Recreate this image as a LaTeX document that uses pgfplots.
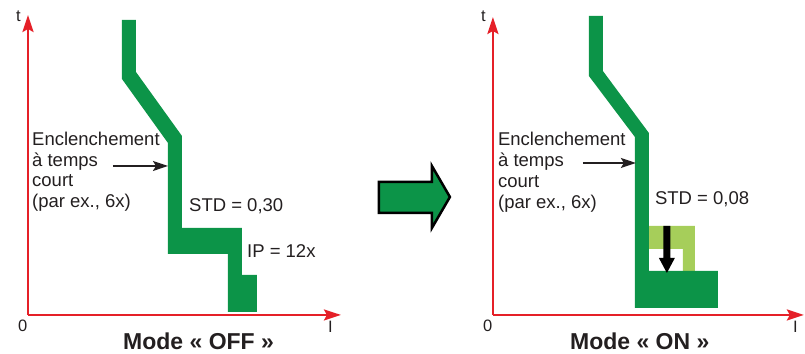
\documentclass[border=0pt]{standalone}
\usepackage{pgfplots}
\pgfplotsset{compat=1.18}
\usepackage{fontspec}
\setmainfont{Liberation Sans}
\usetikzlibrary{arrows.meta}
\definecolor{dkgreen}{RGB}{12,148,72}
\definecolor{ltgreen}{RGB}{166,206,90}
\definecolor{axred}{RGB}{229,32,40}
\definecolor{txt}{RGB}{35,31,32}
\begin{document}
\begin{tikzpicture}
\begin{axis}[scale only axis, width=805bp, height=354bp,
  xmin=0, xmax=805, ymin=0, ymax=354, y dir=reverse,
  hide axis, clip=false]
\path (axis cs:0,0) rectangle (axis cs:805,354);
% ---------- left panel ----------
\addplot[draw=none, fill=dkgreen] coordinates {(122,20) (136,20) (136,72) (182,136) (182,228) (242,228) (242,275) (257,275) (257,312) (228,312) (228,254) (168,254) (168,143) (122,79)} --cycle;
\addplot[axred, line width=2.3bp, -{Stealth[length=17bp,width=11bp,inset=3bp]}] coordinates {(28,315) (28,15)};
\addplot[axred, line width=2.3bp, -{Stealth[length=17bp,width=11bp,inset=3bp]}] coordinates {(28,315) (341,315)};
\addplot[txt, line width=1.7bp, -{Stealth[length=15bp,width=10bp,inset=3bp]}] coordinates {(113,166) (168,166)};
% ---------- right panel ----------
\addplot[draw=none, fill=ltgreen] coordinates {(649,226) (695,226) (695,271) (683,271) (683,249) (649,249)} --cycle;
\addplot[draw=none, fill=dkgreen] coordinates {(589,16) (603,16) (603,71) (649,133) (649,271) (718,271) (718,308) (635,308) (635,137) (589,76)} --cycle;
\addplot[draw=none, fill=black] coordinates {(663.5,226) (670.5,226) (670.5,258) (675,258) (667,273) (659,258) (663.5,258)} --cycle;
\addplot[axred, line width=2.3bp, -{Stealth[length=17bp,width=11bp,inset=3bp]}] coordinates {(493,315) (493,17)};
\addplot[axred, line width=2.3bp, -{Stealth[length=17bp,width=11bp,inset=3bp]}] coordinates {(493,315) (804,315)};
\addplot[txt, line width=1.7bp, -{Stealth[length=15bp,width=10bp,inset=3bp]}] coordinates {(583,163) (636,163)};
% ---------- middle arrow ----------
\addplot[draw=black, line width=2.5bp, fill=dkgreen, line join=miter] coordinates {(379,182) (432,182) (432,166) (450,197) (432,228) (432,213) (379,213)} --cycle;
% ---------- texts ----------
\begin{scope}[every node/.style={inner sep=0pt, anchor=base west, text=txt, font=\fontsize{18.5bp}{21bp}\selectfont}]
\node at (axis cs:32,146) {Enclenchement};
\node at (axis cs:32,167) {à temps};
\node at (axis cs:32,187) {court};
\node at (axis cs:32,208) {(par ex., 6x)};
\node at (axis cs:189,212) {STD = 0,30};
\node at (axis cs:247,258) {IP = 12x};
\node at (axis cs:498,146) {Enclenchement};
\node at (axis cs:498,167) {à temps};
\node at (axis cs:498,188) {court};
\node at (axis cs:498,209) {(par ex., 6x)};
\node at (axis cs:655,205) {STD = 0,08};
\end{scope}
\begin{scope}[every node/.style={inner sep=0pt, anchor=base west, text=txt, font=\fontsize{16.5bp}{19bp}\selectfont}]
\node at (axis cs:16,22) {t};
\node at (axis cs:18,332) {0};
\node at (axis cs:328,333) {I};
\node at (axis cs:481,22) {t};
\node at (axis cs:483,332) {0};
\node at (axis cs:793,333) {I};
\end{scope}
\begin{scope}[every node/.style={inner sep=0pt, anchor=base west, text=txt, font=\fontsize{23bp}{26bp}\selectfont\bfseries}]
\node at (axis cs:123,350) {Mode « OFF »};
\node at (axis cs:570,350) {Mode « ON »};
\end{scope}
\end{axis}
\end{tikzpicture}
\end{document}
